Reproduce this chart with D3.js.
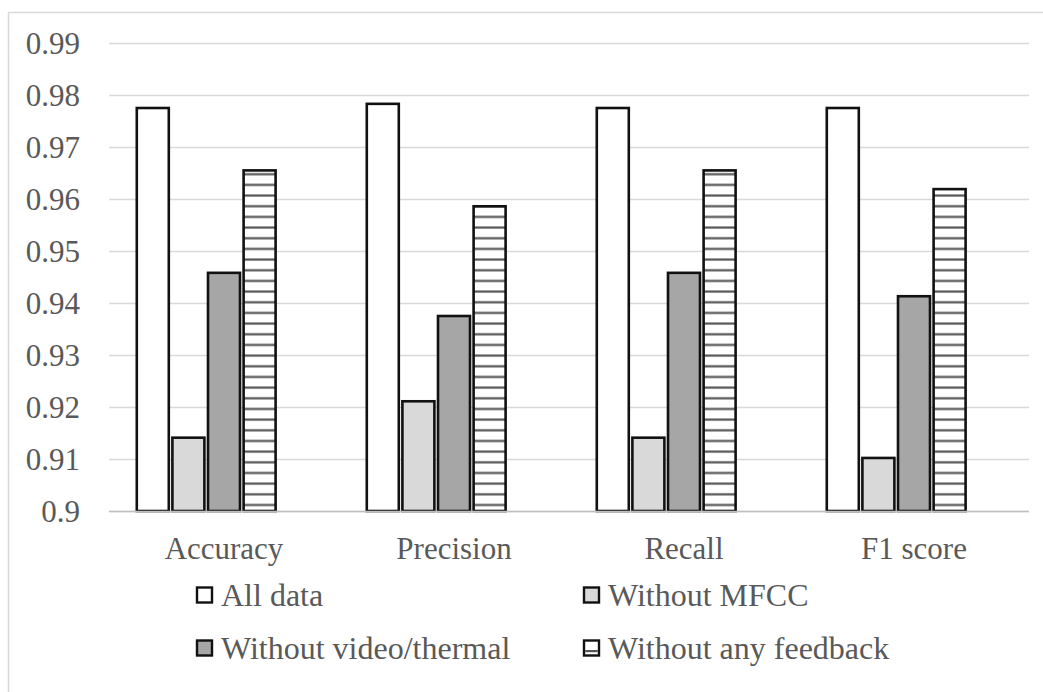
<!DOCTYPE html>
<html>
<head>
<meta charset="utf-8">
<script src="https://cdn.jsdelivr.net/npm/d3@7"></script>
<style>
  html, body { margin: 0; padding: 0; background: #fff; }
  svg { display: block; }
  svg text { font-family: "Liberation Serif", Times, "Times New Roman", serif; fill: #595959; }
</style>
</head>
<body>
<svg id="chart" width="1043" height="692"></svg>
<script>
// Metric categories along the x axis
const categories = ["Accuracy", "Precision", "Recall", "F1 score"];

// Ablation settings (series)
const seriesNames = ["All data", "Without MFCC", "Without video/thermal", "Without any feedback"];

// Scores per series, one value per category
const allData         = [0.9775, 0.9783, 0.9775, 0.9775];
const withoutMFCC     = [0.9141, 0.9211, 0.9141, 0.9102];
const withoutVideo    = [0.9458, 0.9375, 0.9458, 0.9413];
const withoutFeedback = [0.9655, 0.9586, 0.9655, 0.9619];

// Y axis ticks
const yTicks = [0.9, 0.91, 0.92, 0.93, 0.94, 0.95, 0.96, 0.97, 0.98, 0.99];

const seriesValues = [allData, withoutMFCC, withoutVideo, withoutFeedback];

const FONT = '"Liberation Serif", Times, "Times New Roman", serif';

const svg = d3.select("#chart");
const W = 1043, H = 692;

// Chart frame (left and top edges only visible)
svg.append("rect")
  .attr("x", 8.5).attr("y", 12.5)
  .attr("width", W + 20).attr("height", H + 20)
  .attr("fill", "#fff").attr("stroke", "#d9d9d9").attr("stroke-width", 1.5);

// Hatch pattern for the "Without any feedback" series
const defs = svg.append("defs");
const hatchStep = 10.67;
const hatch = defs.append("pattern")
  .attr("id", "hatch")
  .attr("patternUnits", "userSpaceOnUse")
  .attr("x", 0).attr("y", 3.5 - hatchStep / 2)
  .attr("width", 20).attr("height", hatchStep);
hatch.append("rect").attr("width", 20).attr("height", hatchStep).attr("fill", "#fff");
hatch.append("rect").attr("x", 0).attr("y", hatchStep / 2 - 1.1)
  .attr("width", 20).attr("height", 2.2).attr("fill", "#555");

const fills = ["#ffffff", "#d9d9d9", "#a6a6a6", "url(#hatch)"];

const plot = { left: 109, right: 1029, top: 43, bottom: 511 };

const y = d3.scaleLinear()
  .domain([0.9, 0.99])
  .range([plot.bottom, plot.top]);

const x = d3.scaleBand()
  .domain(categories)
  .range([plot.left, plot.right])
  .paddingInner(0.226)
  .paddingOuter(0.113);

// Five slots per category; the fifth stays empty
const slot = d3.scaleBand()
  .domain(d3.range(seriesNames.length + 1))
  .range([0, x.bandwidth()]);

// Gridlines and y labels
const yAxis = d3.axisLeft(y)
  .tickValues(yTicks)
  .tickSize(-(plot.right - plot.left))
  .tickFormat(d => String(+d.toFixed(2)));

const yG = svg.append("g")
  .attr("transform", `translate(${plot.left},0)`)
  .call(yAxis)
  .attr("font-family", FONT);
yG.select(".domain").remove();
yG.selectAll(".tick line").attr("stroke", "#d9d9d9").attr("stroke-width", 1.5);
yG.selectAll(".tick text")
  .attr("x", 80 - plot.left)
  .attr("dy", "0.35em")
  .attr("font-size", 31)
  .attr("font-family", FONT)
  .attr("fill", "#595959");

// Bars
const groups = svg.append("g").selectAll("g")
  .data(categories)
  .join("g")
  .attr("transform", d => `translate(${x(d)},0)`);

groups.selectAll("rect")
  .data((c, ci) => seriesValues.map((vals, si) => ({ si, v: vals[ci] })))
  .join("rect")
  .attr("x", d => slot(d.si) + 1.8)
  .attr("width", slot.bandwidth() - 3.6)
  .attr("y", d => y(d.v))
  .attr("height", d => y(0.9) - y(d.v))
  .attr("fill", d => fills[d.si])
  .attr("stroke", "#111")
  .attr("stroke-width", 2.6);

// Category axis baseline
svg.append("line")
  .attr("x1", plot.left).attr("x2", plot.right)
  .attr("y1", y(0.9) + 0.5).attr("y2", y(0.9) + 0.5)
  .attr("stroke", "#bfbfbf").attr("stroke-width", 1.5);

// Category labels
const xAxis = d3.axisBottom(x).tickSize(0).tickPadding(0);
const xG = svg.append("g")
  .attr("transform", `translate(0,${plot.bottom})`)
  .call(xAxis)
  .attr("font-family", FONT);
xG.select(".domain").remove();
xG.selectAll(".tick text")
  .attr("y", 48)
  .attr("dy", 0)
  .attr("font-size", 31)
  .attr("font-family", FONT)
  .attr("fill", "#595959");

// Legend: two rows, two columns
const legendX = [196, 583];
const legendY = [595, 648];
const legend = svg.append("g").selectAll("g")
  .data(seriesNames)
  .join("g")
  .attr("transform", (d, i) => `translate(${legendX[i % 2]},${legendY[Math.floor(i / 2)]})`);

legend.append("rect")
  .attr("x", 1).attr("y", -7.5)
  .attr("width", 15).attr("height", 15)
  .attr("fill", (d, i) => i === 3 ? "#fff" : fills[i])
  .attr("stroke", "#111").attr("stroke-width", 2.4);
legend.filter((d, i) => i === 3).append("rect")
  .attr("x", 2.2).attr("y", 2).attr("width", 12.6).attr("height", 2.2)
  .attr("fill", "#555");

legend.append("text")
  .attr("x", 25)
  .attr("y", 0)
  .attr("dy", "0.35em")
  .attr("font-size", 32)
  .attr("font-family", FONT)
  .text(d => d);
</script>
</body>
</html>
